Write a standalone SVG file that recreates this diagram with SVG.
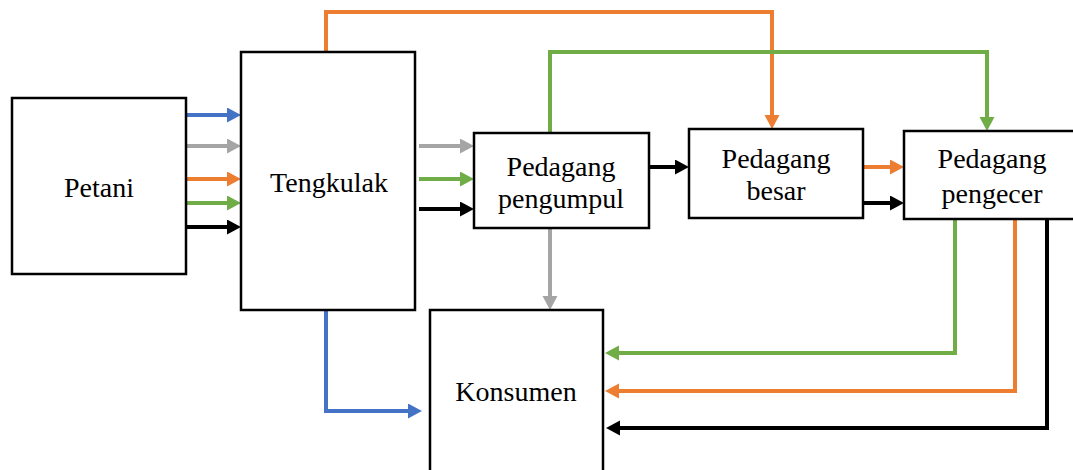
<svg xmlns="http://www.w3.org/2000/svg" width="1073" height="470" viewBox="0 0 1073 470">
<style>
.box{fill:#fff;stroke:#000;stroke-width:2.5}
.t{font-family:"Liberation Serif","Times New Roman",serif;font-size:28px;fill:#000;text-anchor:middle}
.c{fill:none;stroke-width:4;stroke-linejoin:miter}
.blue{stroke:#4472C4}.gray{stroke:#A5A5A5}.orange{stroke:#ED7D31}.green{stroke:#70AD47}.black{stroke:#000}
</style>
<defs>
<marker id="mb" markerUnits="userSpaceOnUse" markerWidth="16" markerHeight="16" refX="1" refY="7.5" orient="auto"><path d="M0,0 L14,7.5 L0,15z" fill="#4472C4"/></marker>
<marker id="mg" markerUnits="userSpaceOnUse" markerWidth="16" markerHeight="16" refX="1" refY="7.5" orient="auto"><path d="M0,0 L14,7.5 L0,15z" fill="#A5A5A5"/></marker>
<marker id="mo" markerUnits="userSpaceOnUse" markerWidth="16" markerHeight="16" refX="1" refY="7.5" orient="auto"><path d="M0,0 L14,7.5 L0,15z" fill="#ED7D31"/></marker>
<marker id="mn" markerUnits="userSpaceOnUse" markerWidth="16" markerHeight="16" refX="1" refY="7.5" orient="auto"><path d="M0,0 L14,7.5 L0,15z" fill="#70AD47"/></marker>
<marker id="mk" markerUnits="userSpaceOnUse" markerWidth="16" markerHeight="16" refX="1" refY="7.5" orient="auto"><path d="M0,0 L14,7.5 L0,15z" fill="#000"/></marker>
</defs>
<g id="connectors">
<path class="c blue" d="M186,115 H228" marker-end="url(#mb)"/>
<path class="c gray" d="M186,146 H228" marker-end="url(#mg)"/>
<path class="c orange" d="M186,179 H228" marker-end="url(#mo)"/>
<path class="c green" d="M186,203 H228" marker-end="url(#mn)"/>
<path class="c black" d="M186,227 H228" marker-end="url(#mk)"/>
<path class="c gray" d="M419,146 H461" marker-end="url(#mg)"/>
<path class="c green" d="M419,179 H461" marker-end="url(#mn)"/>
<path class="c black" d="M419,209 H461" marker-end="url(#mk)"/>
<path class="c black" d="M649,167 H676" marker-end="url(#mk)"/>
<path class="c orange" d="M863,167 H891" marker-end="url(#mo)"/>
<path class="c black" d="M863,203 H891" marker-end="url(#mk)"/>
<path class="c orange" d="M326,52 V12 H772 V116" marker-end="url(#mo)"/>
<path class="c green" d="M550,133 V52 H987 V118" marker-end="url(#mn)"/>
<path class="c gray" d="M550,228 V297" marker-end="url(#mg)"/>
<path class="c blue" d="M326,310 V411 H409" marker-end="url(#mb)"/>
<path class="c green" d="M955,219 V353 H618" marker-end="url(#mn)"/>
<path class="c orange" d="M1015,219 V391 H618" marker-end="url(#mo)"/>
<path class="c black" d="M1047,219 V428 H619" stroke-width="5" marker-end="url(#mk)"/>
</g>
<g id="petani"><rect class="box" x="12" y="98" width="174" height="176"/><text class="t" x="99" y="197">Petani</text></g>
<g id="tengkulak"><rect class="box" x="241" y="52" width="174" height="258"/><text class="t" x="329" y="192">Tengkulak</text></g>
<g id="pedagang-pengumpul"><rect class="box" x="474" y="133" width="175" height="95"/><text class="t" x="561" y="176">Pedagang</text><text class="t" x="561" y="208">pengumpul</text></g>
<g id="pedagang-besar"><rect class="box" x="689" y="129" width="174" height="89"/><text class="t" x="776" y="168">Pedagang</text><text class="t" x="776" y="200">besar</text></g>
<g id="pedagang-pengecer"><rect class="box" x="904" y="131" width="175" height="88"/><text class="t" x="992" y="168">Pedagang</text><text class="t" x="992" y="203">pengecer</text></g>
<g id="konsumen"><rect class="box" x="430" y="310" width="173" height="162"/><text class="t" x="516" y="401">Konsumen</text></g>
</svg>
